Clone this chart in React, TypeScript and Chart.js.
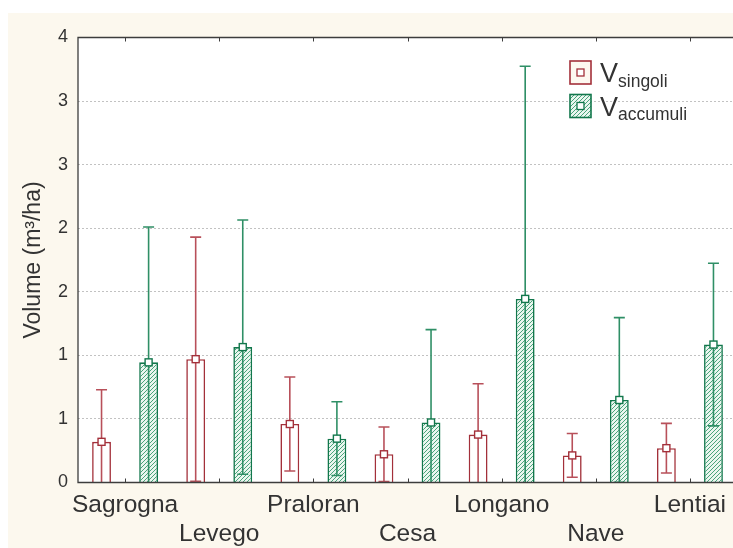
import React, { useEffect, useRef } from 'react';
import { Chart, registerables } from 'chart.js';

Chart.register(...registerables);

// ---- data ----
const categories = ['Sagrogna', 'Levego', 'Praloran', 'Cesa', 'Longano', 'Nave', 'Lentiai'];
const singoliMean = [0.32, 0.97, 0.46, 0.222, 0.377, 0.213, 0.27];
const singoliErr = [0.41, 0.96, 0.37, 0.215, 0.4, 0.172, 0.195];
const accumuliMean = [0.945, 1.065, 0.345, 0.472, 1.444, 0.649, 1.085];
const accumuliErr = [1.065, 1.0, 0.29, 0.73, 1.83, 0.648, 0.64];
const yTickLabels = ['0', '1', '1', '2', '2', '3', '3', '4'];
const seriesNames = ['singoli', 'accumuli'];

const RED = '#a3303a';
const RED_LIGHT = '#b8505a';
const GREEN = '#12774c';
const GREEN_LIGHT = '#2f8f66';
const FONT = '"Liberation Sans", Arial, Helvetica, sans-serif';
const TEXT = '#333333';
const AXIS = '#3d3d3d';

function makeHatch(): CanvasPattern | string {
  const c = document.createElement('canvas');
  c.width = 4;
  c.height = 4;
  const g = c.getContext('2d');
  if (!g) return '#a8d5bd';
  g.fillStyle = '#eaf6ef';
  g.fillRect(0, 0, 4, 4);
  g.strokeStyle = '#4aa47b';
  g.lineWidth = 1;
  g.beginPath();
  g.moveTo(-1, 5);
  g.lineTo(5, -1);
  g.moveTo(-1, 1);
  g.lineTo(1, -1);
  g.moveTo(3, 5);
  g.lineTo(5, 3);
  g.stroke();
  return g.createPattern(c, 'repeat') || '#a8d5bd';
}

const decorPlugin = {
  id: 'decor',
  beforeDraw(chart: any) {
    const { ctx, chartArea: a } = chart;
    ctx.save();
    ctx.fillStyle = '#ffffff';
    ctx.fillRect(a.left, a.top, a.right - a.left, a.bottom - a.top);
    ctx.restore();
  },
  afterDatasetsDraw(chart: any) {
    const { ctx, chartArea: a } = chart;
    const yScale = chart.scales.y;
    const xScale = chart.scales.x;
    const hatch = chart.$hatch;

    // error bars + mean markers
    ctx.save();
    ctx.beginPath();
    ctx.rect(a.left, a.top, a.right - a.left, a.bottom - a.top);
    ctx.clip();
    chart.data.datasets.forEach((ds: any, di: number) => {
      const meta = chart.getDatasetMeta(di);
      meta.data.forEach((el: any, i: number) => {
        const m = ds.data[i];
        const e = ds.errors[i];
        const x = el.x;
        const yTop = yScale.getPixelForValue(m + e);
        const yBot = yScale.getPixelForValue(m - e);
        const yM = yScale.getPixelForValue(m);
        ctx.strokeStyle = ds.lineColor;
        ctx.lineWidth = 1.6;
        ctx.beginPath();
        ctx.moveTo(x, yTop);
        ctx.lineTo(x, yBot);
        ctx.moveTo(x - 5.5, yTop);
        ctx.lineTo(x + 5.5, yTop);
        ctx.moveTo(x - 5.5, yBot);
        ctx.lineTo(x + 5.5, yBot);
        ctx.stroke();
        ctx.fillStyle = '#ffffff';
        ctx.strokeStyle = ds.borderColor;
        ctx.lineWidth = 1.4;
        ctx.fillRect(x - 3.5, yM - 3.5, 7, 7);
        ctx.strokeRect(x - 3.5, yM - 3.5, 7, 7);
      });
    });
    ctx.restore();

    // frame and inward ticks
    ctx.save();
    ctx.strokeStyle = AXIS;
    ctx.lineWidth = 1.3;
    ctx.beginPath();
    ctx.moveTo(a.left, a.top);
    ctx.lineTo(a.right, a.top);
    ctx.lineTo(a.right, a.bottom);
    ctx.lineTo(a.left, a.bottom);
    ctx.closePath();
    ctx.stroke();
    ctx.lineWidth = 1;
    ctx.beginPath();
    categories.forEach((_, i) => {
      const x = Math.round(xScale.getPixelForValue(i)) + 0.5;
      ctx.moveTo(x, a.top);
      ctx.lineTo(x, a.top + 4);
      ctx.moveTo(x, a.bottom);
      ctx.lineTo(x, a.bottom - 4);
    });
    ctx.stroke();
    ctx.restore();

    // legend
    ctx.save();
    const lx = a.left + 492;
    const rows = [a.top + 23.5, a.top + 57];
    chart.data.datasets.forEach((ds: any, di: number) => {
      const ly = rows[di];
      ctx.fillStyle = di === 0 ? '#fdf8f0' : hatch;
      ctx.fillRect(lx, ly, 21, 23);
      ctx.strokeStyle = ds.borderColor;
      ctx.lineWidth = 1.6;
      ctx.strokeRect(lx, ly, 21, 23);
      ctx.fillStyle = '#ffffff';
      ctx.lineWidth = 1.3;
      ctx.fillRect(lx + 7, ly + 8, 7, 7);
      ctx.strokeRect(lx + 7, ly + 8, 7, 7);
      const base = ly + 21;
      ctx.fillStyle = TEXT;
      ctx.textBaseline = 'alphabetic';
      ctx.textAlign = 'left';
      ctx.font = `27px ${FONT}`;
      ctx.fillText('V', lx + 30, base);
      const w = ctx.measureText('V').width;
      ctx.font = `17.5px ${FONT}`;
      ctx.fillText(seriesNames[di], lx + 30 + w, base + 4.5);
    });
    ctx.restore();
  },
};

export default function App() {
  const ref = useRef<HTMLCanvasElement | null>(null);

  useEffect(() => {
    const canvas = ref.current;
    if (!canvas) return;
    const hatch = makeHatch();
    const chart = new Chart(canvas, {
      type: 'bar',
      data: {
        labels: categories,
        datasets: [
          {
            label: 'V singoli',
            data: singoliMean,
            errors: singoliErr,
            lineColor: RED_LIGHT,
            backgroundColor: '#ffffff',
            borderColor: RED,
            borderWidth: 1.6,
            barPercentage: 0.4,
            categoryPercentage: 1.0,
          } as any,
          {
            label: 'V accumuli',
            data: accumuliMean,
            errors: accumuliErr,
            lineColor: GREEN_LIGHT,
            backgroundColor: hatch,
            borderColor: GREEN,
            borderWidth: 1.6,
            barPercentage: 0.4,
            categoryPercentage: 1.0,
          } as any,
        ],
      },
      options: {
        responsive: false,
        animation: false,
        devicePixelRatio: 1,
        layout: { padding: { left: 0, top: 24.5, right: 16, bottom: 0 } },
        plugins: {
          legend: { display: false },
          tooltip: { enabled: false },
        },
        scales: {
          x: {
            grid: { display: false, drawTicks: false },
            border: { display: false },
            ticks: {
              autoSkip: false,
              maxRotation: 0,
              minRotation: 0,
              padding: 8,
              color: TEXT,
              font: { family: FONT, size: 24.5, lineHeight: 1.18 },
              callback: (_v: any, i: number) => (i % 2 === 1 ? ['', categories[i]] : categories[i]),
            },
            afterFit: (s: any) => {
              s.height = 65.5;
            },
          },
          y: {
            min: 0,
            max: 3.5,
            border: { display: false, dash: [2, 2] },
            grid: {
              drawTicks: false,
              color: (c: any) =>
                c.tick && (c.tick.value === 0 || c.tick.value === 3.5) ? 'rgba(0,0,0,0)' : '#c2c2c2',
              lineWidth: 1,
            },
            ticks: {
              stepSize: 0.5,
              padding: 10,
              color: TEXT,
              font: { family: FONT, size: 18 },
              callback: (_v: any, i: number) => yTickLabels[i],
            },
            title: {
              display: true,
              text: 'Volume (m³/ha)',
              color: TEXT,
              font: { family: FONT, size: 23, lineHeight: 1.2 },
              padding: { top: 11.5, bottom: 0 },
            },
            afterFit: (s: any) => {
              s.width = 70;
            },
          },
        },
      } as any,
      plugins: [decorPlugin],
    });
    (chart as any).$hatch = hatch;
    chart.draw();
    return () => chart.destroy();
  }, []);

  return (
    <div
      style={{
        position: 'absolute',
        left: 8,
        top: 13,
        width: 725,
        height: 535,
        overflow: 'hidden',
        background: '#fcf8ee',
      }}
    >
      <canvas ref={ref} width={745} height={535} style={{ display: 'block', width: 745, height: 535 }} />
    </div>
  );
}
